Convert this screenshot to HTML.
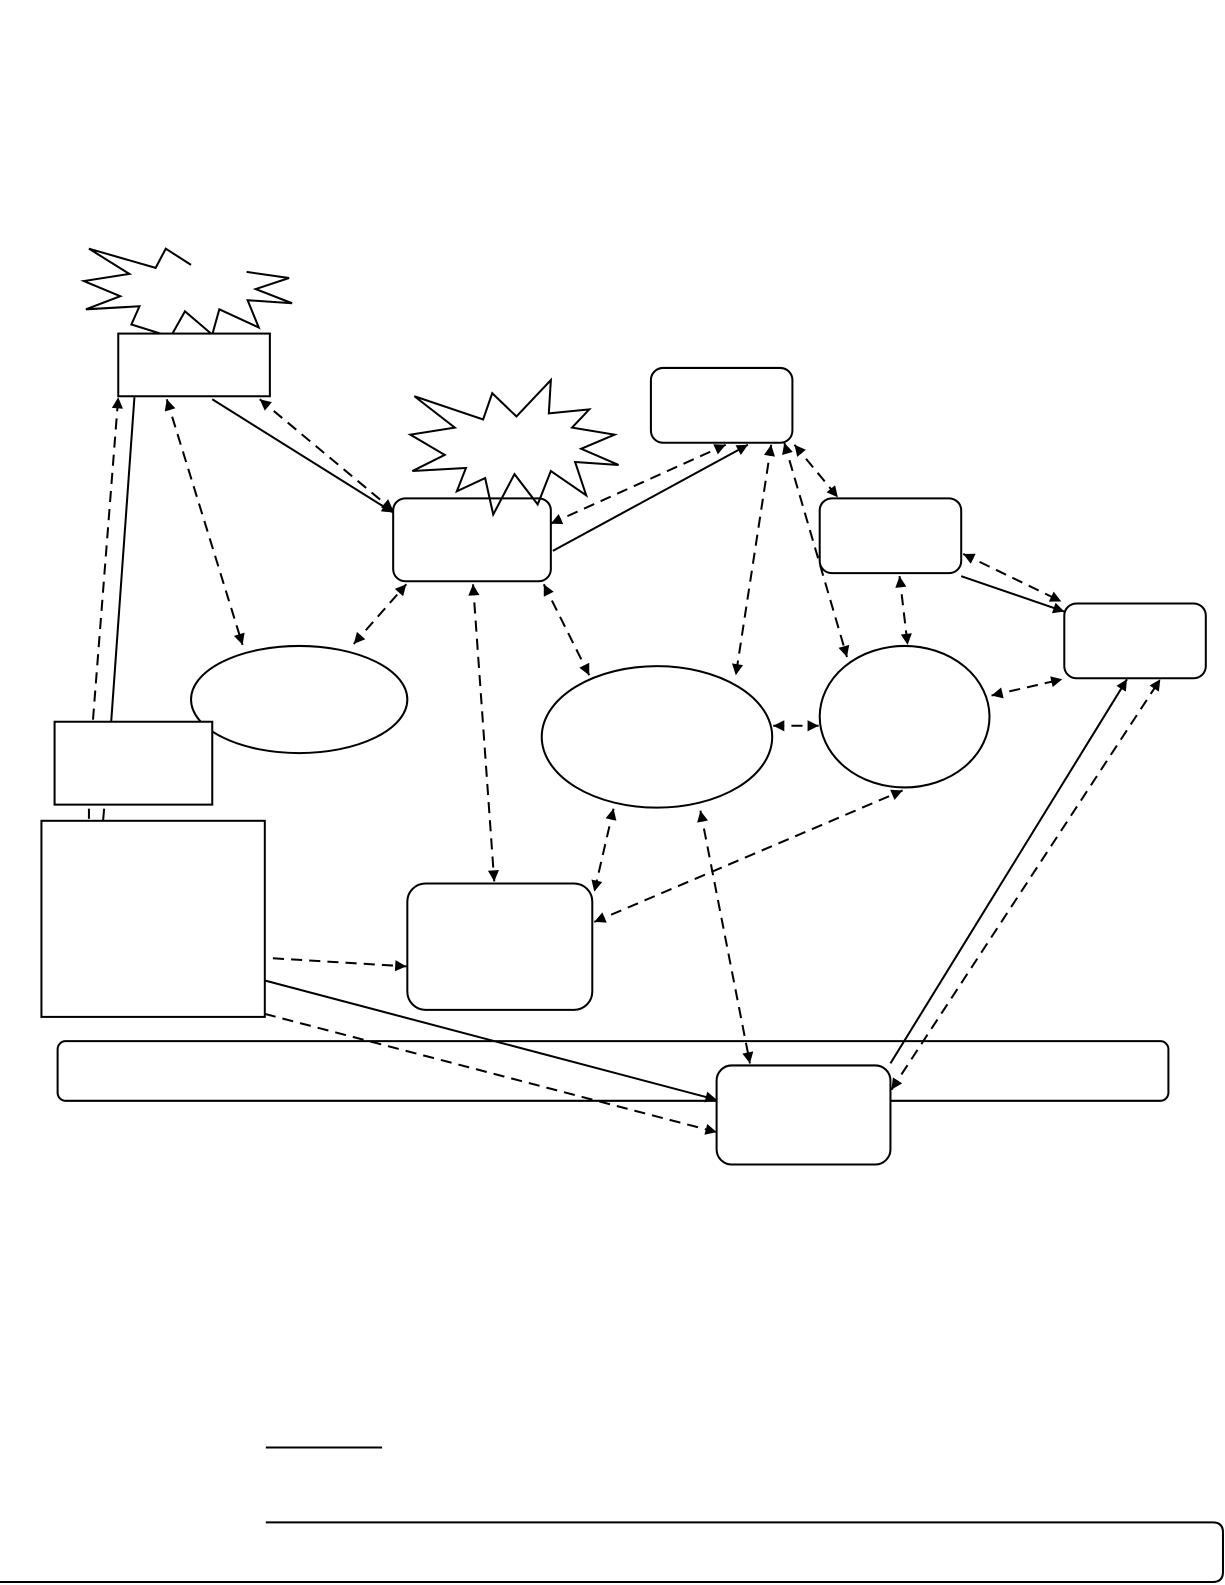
<!DOCTYPE html>
<html><head><meta charset="utf-8"><style>html,body{margin:0;padding:0;background:#fff}svg{display:block}</style></head>
<body>
<svg width="1225" height="1585" viewBox="0 0 1212 1568" preserveAspectRatio="none" xmlns="http://www.w3.org/2000/svg">
<defs>
<marker id="a" viewBox="0 0 10 10" refX="10" refY="5" markerWidth="13" markerHeight="11" markerUnits="userSpaceOnUse" orient="auto-start-reverse"><path d="M0,0 L10,5 L0,10 z" fill="#000"/></marker>
</defs>
<g fill="#fff" stroke="#000" stroke-width="2">
<polyline fill="#fff" points="189,262 164,246 154,265 88,246 128,271 83,278 119,293 85,306 138,303 130,321 162,331 170,331 183,308 210,331 217,306 256,324 245,297 289,300 253,286 286,275 244,269"/>
<polygon points="410,392 478,415 487,389 511,412 545,376 543,409 583,405 566,423 608,430 575,444 612,460 569,457 580,490 545,466 532,499 509,469 488,509 480,473 452,486 461,463 408,466 440,450 406,430 450,423"/>
<rect x="117" y="330" width="150" height="62"/>
<ellipse cx="296" cy="692" rx="107" ry="53"/>
<ellipse cx="650" cy="729" rx="114" ry="70"/>
<ellipse cx="895" cy="709" rx="84" ry="70"/>
<rect x="644" y="364" width="140" height="74" rx="12"/>
<rect x="811" y="493" width="140" height="74" rx="12"/>
<rect x="1053" y="597" width="140" height="74" rx="12"/>
<rect x="54" y="714" width="156" height="82"/>
<rect x="41" y="812" width="221" height="194"/>
<rect x="403" y="874" width="183" height="125" rx="18"/>
<rect x="57" y="1030" width="1099" height="59" rx="8"/>
<rect x="709" y="1054" width="172" height="98" rx="15"/>
</g>
<rect x="389" y="493" width="156" height="82" rx="12" fill="none" stroke="#000" stroke-width="2"/>
<g fill="none" stroke="#000" stroke-width="2">
<line x1="110" y1="714" x2="133" y2="393"/>
<line x1="103" y1="800" x2="102" y2="812"/>
<line x1="210" y1="395" x2="389" y2="507" marker-end="url(#a)"/>
<line x1="547" y1="545" x2="740" y2="440" marker-end="url(#a)"/>
<line x1="951" y1="570" x2="1053" y2="605" marker-end="url(#a)"/>
<line x1="262" y1="970" x2="709" y2="1088" marker-end="url(#a)"/>
<line x1="881" y1="1052" x2="1115" y2="672" marker-end="url(#a)"/>
<line x1="263" y1="1432" x2="378" y2="1432"/>
<path d="M263,1506 H1200 Q1210,1506 1210,1516 V1555 Q1210,1565 1200,1565 H0"/>
</g>
<g fill="none" stroke="#000" stroke-width="2" stroke-dasharray="11,7">
<line x1="92" y1="712" x2="117" y2="393" marker-end="url(#a)"/>
<line x1="88" y1="800" x2="88" y2="810"/>
<line x1="165" y1="395" x2="240" y2="638" marker-start="url(#a)" marker-end="url(#a)"/>
<line x1="257" y1="395" x2="389" y2="505" marker-start="url(#a)" marker-end="url(#a)"/>
<line x1="350" y1="637" x2="402" y2="578" marker-start="url(#a)" marker-end="url(#a)"/>
<line x1="468" y1="578" x2="489" y2="872" marker-start="url(#a)" marker-end="url(#a)"/>
<line x1="538" y1="578" x2="583" y2="668" marker-start="url(#a)" marker-end="url(#a)"/>
<line x1="545" y1="518" x2="718" y2="440" marker-start="url(#a)" marker-end="url(#a)"/>
<line x1="763" y1="440" x2="728" y2="668" marker-start="url(#a)" marker-end="url(#a)"/>
<line x1="776" y1="438" x2="838" y2="650" marker-start="url(#a)" marker-end="url(#a)"/>
<line x1="786" y1="440" x2="829" y2="492" marker-start="url(#a)" marker-end="url(#a)"/>
<line x1="890" y1="570" x2="898" y2="638" marker-start="url(#a)" marker-end="url(#a)"/>
<line x1="953" y1="548" x2="1050" y2="595" marker-start="url(#a)" marker-end="url(#a)"/>
<line x1="981" y1="688" x2="1051" y2="672" marker-start="url(#a)" marker-end="url(#a)"/>
<line x1="765" y1="718" x2="810" y2="718" marker-start="url(#a)" marker-end="url(#a)"/>
<line x1="607" y1="800" x2="588" y2="882" marker-start="url(#a)" marker-end="url(#a)"/>
<line x1="588" y1="912" x2="893" y2="782" marker-start="url(#a)" marker-end="url(#a)"/>
<line x1="693" y1="802" x2="742" y2="1052" marker-start="url(#a)" marker-end="url(#a)"/>
<line x1="270" y1="948" x2="402" y2="956" marker-end="url(#a)"/>
<line x1="262" y1="1003" x2="709" y2="1120" marker-end="url(#a)"/>
<line x1="882" y1="1078" x2="1148" y2="672" marker-start="url(#a)" marker-end="url(#a)"/>
</g>
</svg>
</body></html>
